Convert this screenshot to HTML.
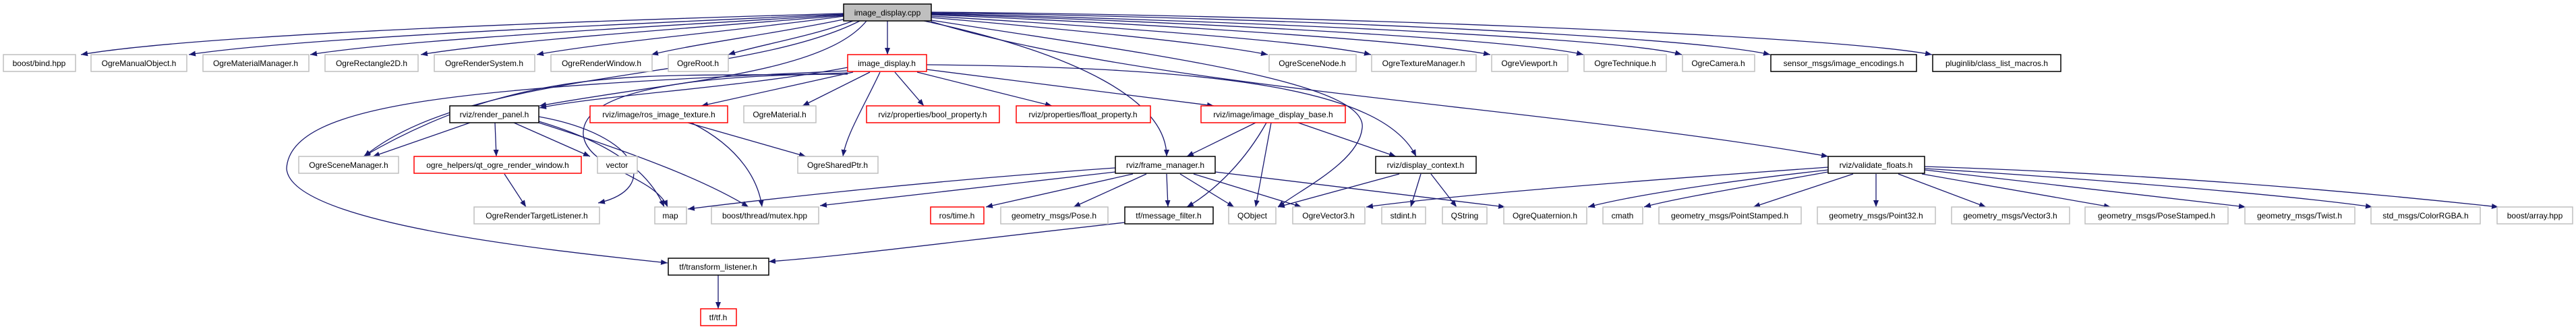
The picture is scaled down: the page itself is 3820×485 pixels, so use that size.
<!DOCTYPE html>
<html><head><meta charset="utf-8"><style>
html,body{margin:0;padding:0;background:#fff;}
svg{display:block;}
text{font-family:"Liberation Sans",Helvetica,sans-serif;font-size:12px;fill:#000;text-anchor:middle;}
.g{fill:#fff;stroke:#bfbfbf;stroke-width:1.5}
.r{fill:#fff;stroke:#ff0000;stroke-width:1.5}
.k{fill:#fff;stroke:#000;stroke-width:1.5}
.e{fill:none;stroke:#191970;stroke-width:1.3;marker-end:url(#a)}
</style></head><body>
<svg width="3820" height="485" viewBox="0 0 3820 485" xmlns="http://www.w3.org/2000/svg">
<defs><marker id="a" markerUnits="userSpaceOnUse" markerWidth="11" markerHeight="8" refX="10" refY="4" orient="auto"><path d="M0,0 L10,4 L0,8 z" fill="#191970"/></marker></defs>
<g>
<!-- edges from cpp -->
<path class="e" d="M1251,20 C900,30 300,50 120,81"/>
<path class="e" d="M1251,21 C950,35 450,55 280,81"/>
<path class="e" d="M1251,22 C1000,38 600,58 460,81"/>
<path class="e" d="M1251,23 C1050,40 750,60 624,81"/>
<path class="e" d="M1251,24 C1100,45 900,62 796,81"/>
<path class="e" d="M1255,28 C1150,50 1030,65 966,81"/>
<path class="e" d="M1265,31 C1200,55 1120,68 1080,81"/>
<path class="e" d="M1316,31 L1316,81"/>
<path class="e" d="M1381,26 C1600,45 1800,65 1880,81"/>
<path class="e" d="M1381,24 C1650,40 1950,62 2033,81"/>
<path class="e" d="M1381,22 C1700,35 2100,60 2210,81"/>
<path class="e" d="M1381,21 C1750,32 2250,58 2348,81"/>
<path class="e" d="M1381,20 C1800,30 2400,55 2494,81"/>
<path class="e" d="M1381,19 C1850,25 2500,52 2625,81"/>
<path class="e" d="M1381,18 C1900,22 2700,50 2865,81"/>
<path class="e" d="M1285,31 C1220,110 1000,120 800,157"/>
<path class="e" d="M1275,31 C1100,120 700,100 540,232"/>
<path class="e" d="M1370,31 C1600,80 1730,150 1730,232"/>
<path class="e" d="M1381,30 C1700,80 2030,120 2020,190 C2015,240 1930,280 1895,307"/>
<path class="e" d="M1381,32 C1700,130 2300,160 2711,232"/>
<!-- image_display.h -->
<path class="e" d="M1374,96 C1800,100 2050,130 2100,232"/>
<path class="e" d="M1257,100 C1100,130 900,140 800,160"/>
<path class="e" d="M1265,107 L1040,157"/>
<path class="e" d="M1290,107 L1190,157"/>
<path class="e" d="M1305,107 C1280,160 1255,200 1250,232"/>
<path class="e" d="M1327,107 L1370,157"/>
<path class="e" d="M1360,107 L1560,157"/>
<path class="e" d="M1374,103 L1800,157"/>
<path class="e" d="M1257,108 C1000,120 800,80 539,232"/>
<path class="e" d="M1257,105 C700,130 430,150 425,250 C430,330 800,370 990,390"/>
<path class="e" d="M1257,110 C1050,110 860,130 865,200 C870,250 970,260 990,307"/>
<!-- render_panel -->
<path class="e" d="M799,173 C950,200 980,280 887,301"/>
<path class="e" d="M799,180 C900,210 960,250 985,307"/>
<path class="e" d="M799,182 C950,230 1050,270 1110,307"/>
<path class="e" d="M697,182 L553,232"/>
<path class="e" d="M734,182 L736,232"/>
<path class="e" d="M762,182 L875,232"/>
<path class="e" d="M748,258 L780,307"/>
<!-- ros_image_texture -->
<path class="e" d="M1020,182 L1195,232"/>
<path class="e" d="M1025,182 C1100,220 1125,270 1130,307"/>
<!-- image_display_base -->
<path class="e" d="M1862,182 L1760,232"/>
<path class="e" d="M1878,182 C1840,250 1790,290 1760,307"/>
<path class="e" d="M1885,182 L1862,307"/>
<path class="e" d="M1925,182 L2070,232"/>
<!-- frame_manager -->
<path class="e" d="M1654,249 C1350,270 1100,300 1020,310"/>
<path class="e" d="M1654,255 L1216,305"/>
<path class="e" d="M1680,258 L1462,307"/>
<path class="e" d="M1700,258 L1592,307"/>
<path class="e" d="M1730,258 L1732,307"/>
<path class="e" d="M1750,258 L1830,307"/>
<path class="e" d="M1770,258 L1930,307"/>
<path class="e" d="M1802,255 L2232,307"/>
<!-- display_context -->
<path class="e" d="M2075,258 L1895,307"/>
<path class="e" d="M2107,258 L2092,307"/>
<path class="e" d="M2122,258 L2160,307"/>
<!-- validate_floats -->
<path class="e" d="M2711,248 C2400,270 2150,290 2026,307"/>
<path class="e" d="M2711,252 C2550,270 2420,290 2355,307"/>
<path class="e" d="M2711,255 C2600,275 2480,295 2438,307"/>
<path class="e" d="M2748,258 L2600,307"/>
<path class="e" d="M2782,258 L2782,307"/>
<path class="e" d="M2815,258 L2945,307"/>
<path class="e" d="M2850,258 L3130,307"/>
<path class="e" d="M2854,252 L3330,307"/>
<path class="e" d="M2854,250 C3100,265 3400,290 3518,307"/>
<path class="e" d="M2854,247 C3200,258 3500,285 3705,307"/>
<!-- tf -->
<path class="e" d="M1668,330 C1400,360 1250,380 1140,388"/>
<path class="e" d="M1065,408 L1065,458"/>
</g>
<g>
<rect x="1251" y="6" width="130" height="25" fill="#bfbfbf" stroke="#000" stroke-width="1.5"/><text x="1316" y="23">image_display.cpp</text>

<rect class="g" x="5" y="81" width="107" height="25"/><text x="58" y="98">boost/bind.hpp</text>
<rect class="g" x="135" y="81" width="142" height="25"/><text x="206" y="98">OgreManualObject.h</text>
<rect class="g" x="301" y="81" width="157" height="25"/><text x="379" y="98">OgreMaterialManager.h</text>
<rect class="g" x="482" y="81" width="138" height="25"/><text x="551" y="98">OgreRectangle2D.h</text>
<rect class="g" x="644" y="81" width="149" height="25"/><text x="718" y="98">OgreRenderSystem.h</text>
<rect class="g" x="817" y="81" width="150" height="25"/><text x="892" y="98">OgreRenderWindow.h</text>
<rect class="g" x="991" y="81" width="89" height="25"/><text x="1035" y="98">OgreRoot.h</text>
<rect class="r" x="1257" y="81" width="117" height="25"/><text x="1315" y="98">image_display.h</text>
<rect class="g" x="1882" y="81" width="129" height="25"/><text x="1946" y="98">OgreSceneNode.h</text>
<rect class="g" x="2034" y="81" width="155" height="25"/><text x="2111" y="98">OgreTextureManager.h</text>
<rect class="g" x="2212" y="81" width="113" height="25"/><text x="2268" y="98">OgreViewport.h</text>
<rect class="g" x="2349" y="81" width="122" height="25"/><text x="2410" y="98">OgreTechnique.h</text>
<rect class="g" x="2495" y="81" width="107" height="25"/><text x="2548" y="98">OgreCamera.h</text>
<rect class="k" x="2626" y="81" width="216" height="25"/><text x="2734" y="98">sensor_msgs/image_encodings.h</text>
<rect class="k" x="2866" y="81" width="190" height="25"/><text x="2961" y="98">pluginlib/class_list_macros.h</text>

<rect class="k" x="667" y="157" width="132" height="25"/><text x="733" y="174">rviz/render_panel.h</text>
<rect class="r" x="875" y="157" width="204" height="25"/><text x="977" y="174">rviz/image/ros_image_texture.h</text>
<rect class="g" x="1103" y="157" width="107" height="25"/><text x="1156" y="174">OgreMaterial.h</text>
<rect class="r" x="1285" y="157" width="197" height="25"/><text x="1383" y="174">rviz/properties/bool_property.h</text>
<rect class="r" x="1507" y="157" width="199" height="25"/><text x="1606" y="174">rviz/properties/float_property.h</text>
<rect class="r" x="1781" y="157" width="214" height="25"/><text x="1888" y="174">rviz/image/image_display_base.h</text>

<rect class="g" x="443" y="232" width="148" height="25"/><text x="517" y="249">OgreSceneManager.h</text>
<rect class="r" x="614" y="232" width="248" height="25"/><text x="738" y="249">ogre_helpers/qt_ogre_render_window.h</text>
<rect class="g" x="886" y="232" width="59" height="25"/><text x="915" y="249">vector</text>
<rect class="g" x="1183" y="232" width="119" height="25"/><text x="1242" y="249">OgreSharedPtr.h</text>
<rect class="k" x="1654" y="232" width="148" height="25"/><text x="1728" y="249">rviz/frame_manager.h</text>
<rect class="k" x="2040" y="232" width="149" height="25"/><text x="2114" y="249">rviz/display_context.h</text>
<rect class="k" x="2711" y="232" width="143" height="25"/><text x="2782" y="249">rviz/validate_floats.h</text>

<rect class="g" x="703" y="307" width="186" height="25"/><text x="796" y="324">OgreRenderTargetListener.h</text>
<rect class="g" x="971" y="307" width="47" height="25"/><text x="994" y="324">map</text>
<rect class="g" x="1055" y="307" width="159" height="25"/><text x="1134" y="324">boost/thread/mutex.hpp</text>
<rect class="r" x="1380" y="307" width="79" height="25"/><text x="1419" y="324">ros/time.h</text>
<rect class="g" x="1484" y="307" width="159" height="25"/><text x="1563" y="324">geometry_msgs/Pose.h</text>
<rect class="k" x="1668" y="307" width="131" height="25"/><text x="1733" y="324">tf/message_filter.h</text>
<rect class="g" x="1822" y="307" width="70" height="25"/><text x="1857" y="324">QObject</text>
<rect class="g" x="1917" y="307" width="107" height="25"/><text x="1970" y="324">OgreVector3.h</text>
<rect class="g" x="2049" y="307" width="65" height="25"/><text x="2081" y="324">stdint.h</text>
<rect class="g" x="2139" y="307" width="66" height="25"/><text x="2172" y="324">QString</text>
<rect class="g" x="2230" y="307" width="123" height="25"/><text x="2291" y="324">OgreQuaternion.h</text>
<rect class="g" x="2377" y="307" width="59" height="25"/><text x="2406" y="324">cmath</text>
<rect class="g" x="2460" y="307" width="211" height="25"/><text x="2565" y="324">geometry_msgs/PointStamped.h</text>
<rect class="g" x="2695" y="307" width="175" height="25"/><text x="2782" y="324">geometry_msgs/Point32.h</text>
<rect class="g" x="2894" y="307" width="175" height="25"/><text x="2981" y="324">geometry_msgs/Vector3.h</text>
<rect class="g" x="3092" y="307" width="212" height="25"/><text x="3198" y="324">geometry_msgs/PoseStamped.h</text>
<rect class="g" x="3329" y="307" width="163" height="25"/><text x="3410" y="324">geometry_msgs/Twist.h</text>
<rect class="g" x="3516" y="307" width="162" height="25"/><text x="3597" y="324">std_msgs/ColorRGBA.h</text>
<rect class="g" x="3703" y="307" width="112" height="25"/><text x="3759" y="324">boost/array.hpp</text>

<rect class="k" x="991" y="383" width="149" height="25"/><text x="1065" y="400">tf/transform_listener.h</text>
<rect class="r" x="1039" y="458" width="53" height="25"/><text x="1065" y="475">tf/tf.h</text>
</g>
</svg>
</body></html>
